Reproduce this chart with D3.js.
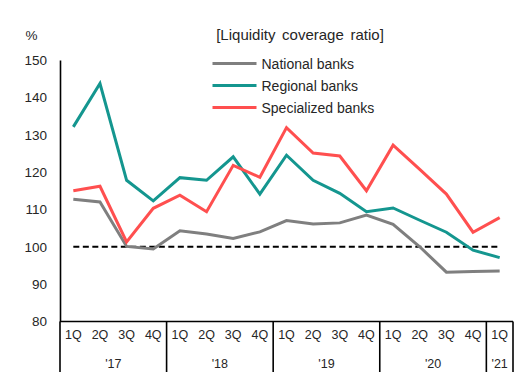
<!DOCTYPE html>
<html>
<head>
<meta charset="utf-8">
<script src="https://cdn.jsdelivr.net/npm/d3@7"></script>
<style>
  html, body { margin: 0; padding: 0; background: #fff; }
  svg { display: block; font-family: "Liberation Sans", Arial, sans-serif; }
</style>
</head>
<body>
<svg id="chart" width="516" height="376"></svg>
<script>
// Quarterly liquidity coverage ratio, 1Q 2017 – 1Q 2021
const quarters = ["1Q","2Q","3Q","4Q","1Q","2Q","3Q","4Q","1Q","2Q","3Q","4Q","1Q","2Q","3Q","4Q","1Q"];
const years = [
  { label: "'17", count: 4 },
  { label: "'18", count: 4 },
  { label: "'19", count: 4 },
  { label: "'20", count: 4 },
  { label: "'21", count: 1 }
];
const nationalBanks    = [112.7, 112.0, 100.1, 99.4, 104.3, 103.4, 102.2, 104.0, 107.0, 106.1, 106.4, 108.5, 106.0, 100.0, 93.2, 93.4, 93.5];
const regionalBanks    = [132.1, 143.7, 117.8, 112.3, 118.5, 117.8, 124.1, 114.1, 124.5, 117.8, 114.3, 109.4, 110.4, 107.1, 103.9, 99.1, 97.1];
const specializedBanks = [115.0, 116.2, 101.3, 110.3, 113.8, 109.4, 121.8, 118.6, 131.9, 125.1, 124.3, 115.0, 127.2, 120.7, 114.1, 103.9, 107.8];
const yTicks = [80, 90, 100, 110, 120, 130, 140, 150];
const threshold = 100;

const series = [
  { name: "National banks",    values: nationalBanks,    color: "#7f7f7f" },
  { name: "Regional banks",    values: regionalBanks,    color: "#14968f" },
  { name: "Specialized banks", values: specializedBanks, color: "#ff4f4f" }
];

const svg = d3.select("#chart");
const margin = { left: 60, right: 3, top: 60, bottom: 54.5 };
const W = 516, H = 376;
const x0 = margin.left, x1 = W - margin.right;
const yTop = margin.top, yBot = H - margin.bottom;

const idx = d3.range(quarters.length);
const x = d3.scaleBand().domain(idx).range([x0, x1]).paddingInner(0).paddingOuter(0);
const xc = i => x(i) + x.bandwidth() / 2;
const y = d3.scaleLinear().domain([80, 150]).range([yBot, yTop]);

const textColor = "#262626";

// y axis
const yAxis = svg.append("g")
  .attr("transform", `translate(${x0},0)`)
  .call(d3.axisLeft(y).tickValues(yTicks).tickSize(0).tickPadding(13));
yAxis.select(".domain").attr("stroke", "#000").attr("stroke-width", 1.6);
yAxis.selectAll("text").attr("font-size", 13.5).attr("fill", textColor)
  .attr("font-family", "Liberation Sans, Arial, sans-serif");

svg.append("text").attr("x", 31.5).attr("y", 40).attr("text-anchor", "middle")
  .attr("font-size", 13.5).attr("fill", textColor).text("%");

// x axis: quarter labels and year groups
const xAxis = svg.append("g")
  .attr("transform", `translate(0,${yBot})`)
  .call(d3.axisBottom(x).tickFormat(i => quarters[i]).tickSize(0).tickPadding(8.5));
xAxis.select(".domain").remove();
xAxis.selectAll("text").attr("font-size", 12.5).attr("fill", textColor)
  .attr("font-family", "Liberation Sans, Arial, sans-serif");
svg.append("line").attr("x1", x0).attr("x2", x1).attr("y1", yBot).attr("y2", yBot)
  .attr("stroke", "#000").attr("stroke-width", 1.6);

let start = 0;
const bounds = [0];
years.forEach(g => { start += g.count; bounds.push(start); });
svg.append("g").selectAll("line").data(bounds).join("line")
  .attr("x1", b => b < quarters.length ? x(b) : x1)
  .attr("x2", b => b < quarters.length ? x(b) : x1)
  .attr("y1", yBot).attr("y2", yBot + 50.5)
  .attr("stroke", "#000").attr("stroke-width", 1.6);

svg.append("g").selectAll("text").data(years).join("text")
  .attr("x", (g, k) => {
    const a = bounds[k], b = bounds[k + 1];
    const left = x(a), right = b < quarters.length ? x(b) : x1;
    return (left + right) / 2;
  })
  .attr("y", yBot + 46.5)
  .attr("text-anchor", "middle").attr("font-size", 12.5).attr("fill", textColor)
  .text(g => g.label);

// 100% reference line
svg.append("line")
  .attr("x1", xc(0)).attr("x2", xc(quarters.length - 1))
  .attr("y1", y(threshold)).attr("y2", y(threshold))
  .attr("stroke", "#000").attr("stroke-width", 2).attr("stroke-dasharray", "6,3.5");

// series lines
const line = d3.line().x((d, i) => xc(i)).y(d => y(d));
svg.append("g").selectAll("path").data(series).join("path")
  .attr("d", s => line(s.values))
  .attr("fill", "none").attr("stroke", s => s.color)
  .attr("stroke-width", 3).attr("stroke-linejoin", "miter");

// legend
svg.append("text").attr("x", 300).attr("y", 39.5).attr("text-anchor", "middle")
  .attr("font-size", 15).attr("fill", textColor).attr("word-spacing", 2.5)
  .text("[Liquidity coverage ratio]");
const lg = svg.append("g").selectAll("g").data(series).join("g")
  .attr("transform", (s, k) => `translate(212.5,${63.5 + k * 22})`);
lg.append("line").attr("x1", 0).attr("x2", 44).attr("y1", 0).attr("y2", 0)
  .attr("stroke", s => s.color).attr("stroke-width", 3);
lg.append("text").attr("x", 49).attr("y", 5).attr("font-size", 14)
  .attr("fill", textColor).text(s => s.name);
</script>
</body>
</html>
